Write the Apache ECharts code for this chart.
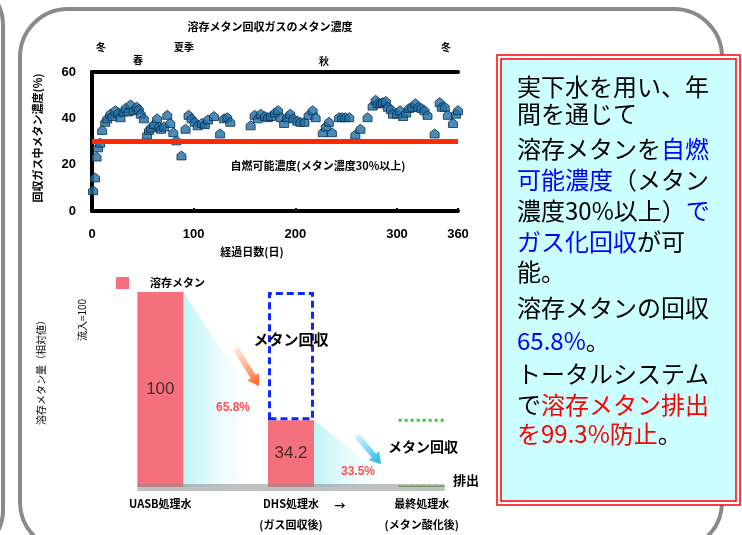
<!DOCTYPE html>
<html>
<head>
<meta charset="utf-8">
<script src="https://cdn.jsdelivr.net/npm/echarts@6/dist/echarts.min.js"></script>
<style>
  html, body { margin: 0; padding: 0; background: #ffffff; }
  #chart { width: 742px; height: 535px; }
</style>
</head>
<body>
<div id="chart"></div>
<script>
// Methane concentration of the recovered gas over one year of operation
const gasDays = [1, 3, 4.5, 6, 8, 10, 13, 15, 18, 20, 23, 26, 28, 31, 33, 36, 38, 41, 44, 46, 48, 51, 54, 56, 58, 61, 64, 66, 68, 71, 74, 77, 80, 83, 88, 92, 95, 98, 101, 104, 108, 111, 114, 120, 126, 130, 133, 136,
  156, 160, 163, 166, 170, 173, 176, 180, 183, 186, 189, 192, 195, 198, 202, 205, 209, 213, 217, 220, 227, 230, 233, 236, 243, 246, 249, 253, 259, 264, 271, 276, 279, 281, 284, 286, 289, 291, 294, 296, 300, 303, 306, 309, 312, 315, 318, 321, 324, 327, 330, 337, 342, 344, 347, 350, 355, 358, 360];
const gasMethane = [9, 14.5, 23.5, 27.5, 29.5, 35, 38.5, 40, 42, 41, 43.5, 42.5, 40.5, 43, 44.5, 43, 46, 43.5, 45, 44, 42, 40, 33, 35, 36, 37.5, 40, 36.5, 35.5, 36.5, 41.5, 38, 34, 30.5, 24, 35.5, 41.5, 40, 38.5, 37, 38, 37.5, 39.5, 41, 33.5, 40, 40.5, 38.5,
  37, 41.5, 40, 42, 41, 40.5, 41, 42.5, 43.5, 40.5, 38, 40.5, 42, 40, 39, 38.5, 38.5, 41.5, 43.5, 40.5, 34, 36.5, 38.5, 34, 40.5, 40.5, 40.5, 40.5, 33, 35.5, 40.5, 45.5, 48, 46.5, 46.5, 47, 47.5, 45, 44, 42, 42, 43.5, 41, 42.5, 44.5, 45, 46.5, 45, 44.5, 43.5, 41.5, 33.5, 47, 45, 45, 41.5, 38, 42, 43.5];
const combustibleLimit = 30;
const dayTicks = [0, 100, 200, 300, 360];
const concTicks = [0, 20, 40, 60];

// Dissolved methane balance through the treatment train (influent = 100)
const stageNames = ['UASB処理水', 'DHS処理水\n(ガス回収後)', '最終処理水\n(メタン酸化後)'];
const remainingMethane = [100, 34.2, 0.7];
const recoveredMethane = [null, 65.8, 33.5];

const CJK = '"Noto Sans CJK JP", "Noto Sans", sans-serif';
const PINK = '#f4707c';

const chart = echarts.init(document.getElementById('chart'), null, { renderer: 'canvas' });

function rotatedText(x, y, text, size, weight) {
  return {
    type: 'text', x: x, y: y, rotation: Math.PI / 2, z: 5,
    style: { text: text, fill: '#000', font: (weight || 'bold') + ' ' + size + 'px ' + CJK, textAlign: 'center', textVerticalAlign: 'middle' }
  };
}
function plainText(x, y, text, size, extra) {
  return Object.assign({
    type: 'text', x: x, y: y, z: 5,
    style: { text: text, fill: '#000', font: 'bold ' + size + 'px ' + CJK, textAlign: 'center', textVerticalAlign: 'middle' }
  }, extra || {});
}

// Summary panel text, line by line
const noteLines = [
  '実下水を用い、年',
  '間を通じて',
  '溶存メタンを{b|自燃}',
  '{b|可能濃度}（メタン',
  '濃度30%以上）{b|で}',
  '{b|ガス化回収}が可',
  '能。',
  '溶存メタンの回収',
  '{b|65.8%}。',
  'トータルシステム',
  'で{r|溶存メタン排出}',
  '{r|を99.3%防止}。'
];
const noteY = [87, 114, 149, 180, 211, 242, 272, 308, 341, 374, 405, 434];
const noteFont = { fontSize: 24, fontFamily: CJK };

const staticGraphics = [
  // neighbouring panel edge and main rounded panel
  { type: 'rect', z: 0, shape: { x: -400, y: -20, width: 403, height: 575, r: 45 }, style: { fill: 'none', stroke: '#8a8a8a', lineWidth: 4 } },
  { type: 'rect', z: 0, shape: { x: 20, y: 9, width: 702, height: 541, r: 48 }, style: { fill: 'none', stroke: '#8a8a8a', lineWidth: 4 } },
  // summary box with double red frame
  { type: 'rect', z: 3, shape: { x: 497, y: 55, width: 243, height: 450 }, style: { fill: '#ffffff', stroke: '#ff0000', lineWidth: 1.5 } },
  { type: 'rect', z: 3, shape: { x: 501, y: 59, width: 235, height: 442 }, style: { fill: '#ccffff', stroke: '#ff0000', lineWidth: 1.5 } },
  // top chart texts
  plainText(270, 27, '溶存メタン回収ガスのメタン濃度', 11),
  plainText(101, 47, '冬', 10), plainText(138, 60, '春', 10), plainText(184, 47, '夏季', 10),
  plainText(324, 61, '秋', 10), plainText(446, 47, '冬', 10),
  rotatedText(38, 138, '回収ガス中メタン濃度(%)', 11),
  plainText(252, 252, '経過日数(日)', 11),
  plainText(318, 166, '自燃可能濃度(メタン濃度30%以上)', 11),
  // bottom chart texts
  { type: 'rect', z: 5, shape: { x: 116, y: 277, width: 13, height: 12 }, style: { fill: PINK } },
  { type: 'text', x: 150, y: 283, z: 5, style: { text: '溶存メタン', fill: '#000', font: 'bold 11px ' + CJK, textAlign: 'left', textVerticalAlign: 'middle' } },
  rotatedText(41, 370, '溶存メタン量（相対値）', 10, 'normal'),
  rotatedText(82, 320, '流入=100', 10, 'normal'),
  plainText(291, 339, 'メタン回収', 15),
  plainText(423, 447, 'メタン回収', 14),
  plainText(466, 480, '排出', 13),
  plainText(340, 506, '→', 11)
];
noteLines.forEach(function (t, i) {
  staticGraphics.push({
    type: 'text', x: 517, y: noteY[i], z: 6,
    style: {
      text: t, fill: '#000000', font: '24px ' + CJK, textVerticalAlign: 'middle',
      rich: {
        b: Object.assign({ fill: '#0000ff' }, noteFont),
        r: Object.assign({ fill: '#ff0000' }, noteFont)
      }
    }
  });
});

const option = {
  animation: false,
  backgroundColor: '#ffffff',
  grid: [
    { left: 92, top: 72, width: 366, height: 139 },
    { left: 95, top: 292, width: 392, height: 198 }
  ],
  xAxis: [
    {
      type: 'value', gridIndex: 0, min: 0, max: 360,
      axisLine: { lineStyle: { color: '#000', width: 4 } },
      axisTick: { show: true, inside: true, length: 3, lineStyle: { color: '#000', width: 2 }, customValues: dayTicks },
      splitLine: { show: false },
      axisLabel: { customValues: dayTicks, color: '#000', fontWeight: 'bold', fontSize: 13, margin: 17, fontFamily: 'Liberation Sans' }
    },
    {
      type: 'value', gridIndex: 0, min: 0, max: 360, position: 'top',
      axisLine: { onZero: false, lineStyle: { color: '#000', width: 4 } },
      axisTick: { show: false }, axisLabel: { show: false }, splitLine: { show: false }
    },
    {
      type: 'category', gridIndex: 1, data: stageNames,
      axisLine: { show: false }, axisTick: { show: false },
      axisLabel: { color: '#000', fontWeight: 'bold', fontSize: 11, lineHeight: 21, margin: 6, fontFamily: CJK, interval: 0 }
    }
  ],
  yAxis: [
    {
      type: 'value', gridIndex: 0, min: 0, max: 60, interval: 20,
      axisLine: { show: true, lineStyle: { color: '#000', width: 4 } },
      axisTick: { show: false }, splitLine: { show: false },
      axisLabel: { color: '#000', fontWeight: 'bold', fontSize: 13, margin: 16, fontFamily: 'Liberation Sans', customValues: concTicks }
    },
    { type: 'value', gridIndex: 1, min: 0, max: 100, show: false }
  ],
  series: [
    {
      type: 'scatter', xAxisIndex: 0, yAxisIndex: 0, clip: false, z: 4,
      symbol: 'path://M5,0L10,4V10H0V4Z', symbolSize: [9, 9],
      itemStyle: { color: '#1f6ea6', borderColor: '#0b2e48', borderWidth: 1 },
      data: gasDays.map(function (d, i) { return [d, gasMethane[i]]; }),
      markLine: {
        silent: true, symbol: 'none', label: { show: false },
        lineStyle: { color: '#ff2a00', width: 5, type: 'solid' },
        data: [{ yAxis: combustibleLimit }]
      }
    },
    {
      type: 'bar', xAxisIndex: 2, yAxisIndex: 1, stack: 'methane', barWidth: 46, z: 3,
      itemStyle: { color: PINK },
      label: { show: true, position: 'inside', color: '#4a2c2c', fontSize: 17, fontFamily: 'Liberation Sans' },
      data: remainingMethane.map(function (v, i) {
        return i === 2 ? { value: v, label: { show: false }, itemStyle: { color: '#8c7a4a' } } : v;
      })
    },
    {
      type: 'bar', xAxisIndex: 2, yAxisIndex: 1, stack: 'methane', barWidth: 46, z: 3, silent: true,
      label: { show: false },
      data: recoveredMethane.map(function (v, i) {
        if (v === null) return null;
        if (i === 1) {
          return { value: v, itemStyle: { color: 'rgba(0,0,0,0)', borderColor: '#0a28ff', borderWidth: 3, borderType: [7, 4] } };
        }
        return { value: v, itemStyle: { color: 'rgba(0,0,0,0)', borderWidth: 0 } };
      })
    }
  ],
  graphic: staticGraphics
};
chart.setOption(option);

// Decorations tied to the bar positions
function px(cat, val) { return chart.convertToPixel({ seriesIndex: 1 }, [cat, val]); }
const half = 23;
const p0top = px(0, remainingMethane[0]);
const p0base = px(0, 0);
const p1top = px(1, remainingMethane[1]);
const p1base = px(1, 0);
const p2low = px(2, remainingMethane[2]);
const p2base = px(2, 0);
const p2top = px(2, remainingMethane[2] + recoveredMethane[2]);

function fade(poly) {
  return {
    type: 'polygon', z: 1, shape: { points: poly },
    style: { fill: new echarts.graphic.LinearGradient(0, 0, 1, 0, [
      { offset: 0, color: '#bff3f7' }, { offset: 1, color: 'rgba(255,255,255,0)' }]) }
  };
}
function arrow(x, y, ang, len, c0, c1) {
  const hl = 11, sw = 3, hw = 7;
  return {
    type: 'polygon', z: 6, x: x, y: y, rotation: -ang,
    shape: { points: [[0, -sw], [len - hl, -sw], [len - hl, -hw], [len, 0], [len - hl, hw], [len - hl, sw], [0, sw]] },
    style: { fill: new echarts.graphic.LinearGradient(0, 0, 1, 0, [{ offset: 0, color: c0 }, { offset: 1, color: c1 }]) }
  };
}
function pctLabel(x, y, v) {
  return { type: 'text', x: x, y: y, z: 6,
    style: { text: v.toFixed(1) + '%', fill: '#ff5050', font: 'bold 12px Liberation Sans', textAlign: 'center', textVerticalAlign: 'middle' } };
}

const dyn = [
  fade([[p0top[0] + half, p0top[1]], [p1top[0] - half, p1top[1]], [p1base[0] - half, p1base[1]], [p0base[0] + half, p0base[1]]]),
  fade([[p1top[0] + half, p1top[1]], [p2low[0] - half, p2low[1]], [p2base[0] - half, p2base[1]], [p1base[0] + half, p1base[1]]]),
  // grey base plate under the bars
  { type: 'rect', z: 7, shape: { x: p0base[0] - half, y: p0base[1] - 3, width: (p2base[0] + half) - (p0base[0] - half), height: 7 },
    style: { fill: 'rgba(140,140,140,0.55)' } },
  // green dotted outline of the oxidised part
  { type: 'line', z: 7, shape: { x1: p2top[0] - half, y1: p2top[1], x2: p2top[0] + half, y2: p2top[1] },
    style: { stroke: '#33cc33', lineWidth: 3, lineDash: [3, 3] } },
  { type: 'line', z: 8, shape: { x1: p2base[0] - half, y1: p2base[1] - 1, x2: p2base[0] + half, y2: p2base[1] - 1 },
    style: { stroke: '#55bb44', lineWidth: 2, lineDash: [2, 4] } },
  arrow(236, 349, Math.atan2(37, 23), 43.6, 'rgba(255,200,170,0.5)', '#ff5a1a'),
  arrow(357, 436, Math.atan2(28, 24), 36.9, 'rgba(160,228,255,0.6)', '#17b2ef'),
  pctLabel(233, 408, recoveredMethane[1]),
  pctLabel(358, 472, recoveredMethane[2])
];
chart.setOption({ graphic: staticGraphics.concat(dyn) });
</script>
</body>
</html>
